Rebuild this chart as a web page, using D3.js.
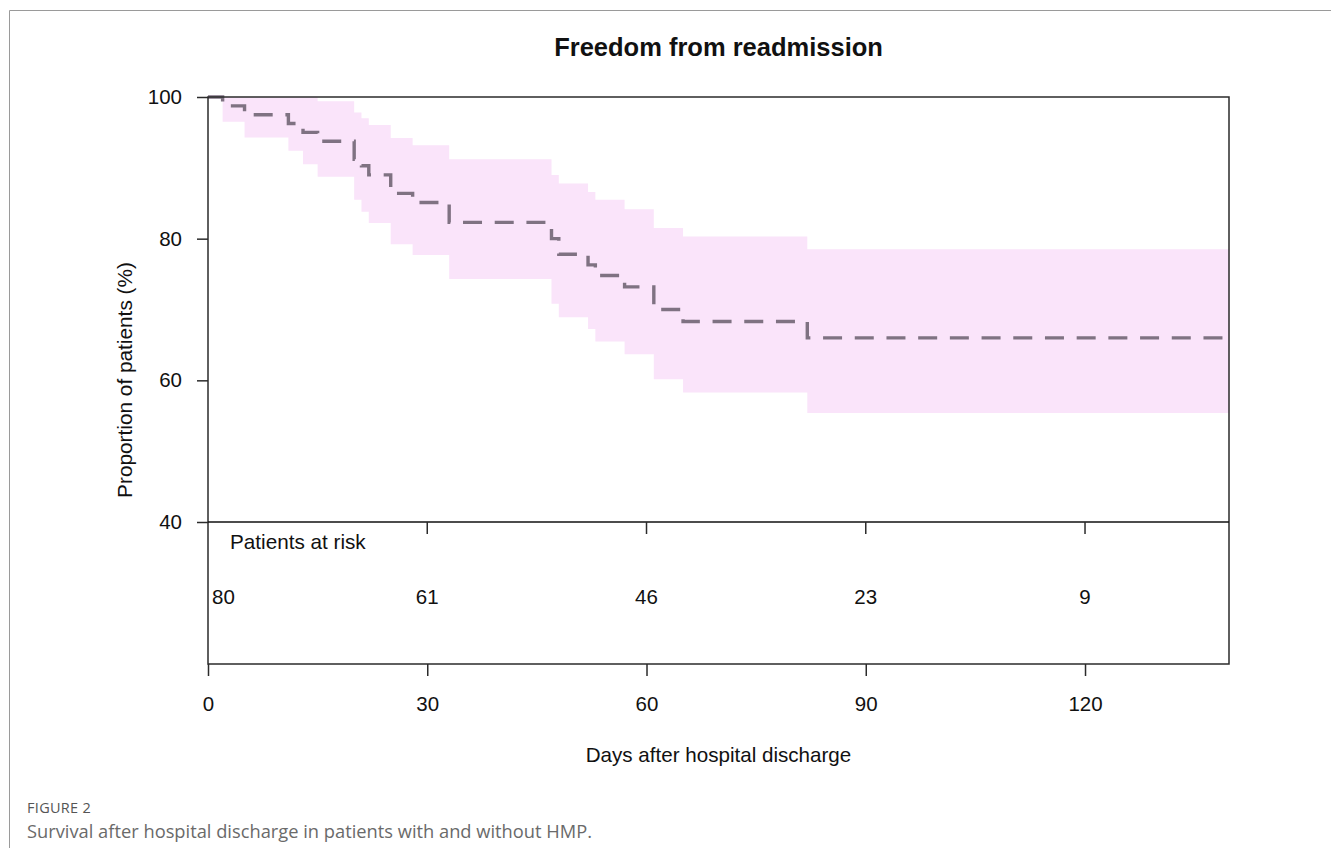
<!DOCTYPE html>
<html><head><meta charset="utf-8">
<script src="https://cdn.jsdelivr.net/npm/d3@7"></script>
<style>
body{margin:0;background:#fff;}
svg{display:block;}
</style></head>
<body>
<svg id="c" width="1331" height="848"></svg>
<script>
const times = [0,2,5,11,13,15,20,21,22,25,28,33,47,48,52,53,57,61,65,82];
const surv  = [100,98.75,97.5,96.25,95,93.75,91.2,90.3,89.0,86.4,85.1,82.3,80.0,77.8,76.3,74.8,73.2,70.0,68.3,66.0];
const upper = [100,100,100,100,100,99.4,97.8,97.0,96.05,94.2,93.2,91.2,89.0,87.8,86.6,85.5,84.15,81.5,80.3,78.5];
const lower = [100,96.5,94.3,92.4,90.5,88.75,85.5,83.8,82.2,79.2,77.7,74.3,70.8,68.9,67.25,65.5,63.7,60.15,58.3,55.4];
const xMax = 139.7;
const xTicks = [0,30,60,90,120];
const yTicks = [40,60,80,100];
const riskTimes = [0,30,60,90,120];
const riskCounts = [80,61,46,23,9];

const svg = d3.select("#c");
const font = "'Liberation Sans', Arial, sans-serif";
const L = 208, R = 1229, T = 97, B = 522, B2 = 664;
const x = d3.scaleLinear().domain([0, xMax]).range([L, R]);
const y = d3.scaleLinear().domain([40, 100]).range([B, T]);

// outer figure frame
svg.append("path").attr("d", `M9.5,848 V10.5 H1331`).attr("fill","none").attr("stroke","#9a9a9a").attr("stroke-width",1);

// data rows
const rows = times.map((t,i)=>({t, s:surv[i], u:upper[i], l:lower[i]}));
rows.push({t:xMax, s:surv[surv.length-1], u:upper[upper.length-1], l:lower[lower.length-1]});

const g = svg.append("g");
g.append("clipPath").attr("id","cp").append("rect").attr("x",L).attr("y",T).attr("width",R-L).attr("height",B-T);

// CI band
const area = d3.area().curve(d3.curveStepAfter).x(d=>x(d.t)).y0(d=>y(d.l)).y1(d=>y(d.u));
g.append("path").datum(rows).attr("d", area).attr("fill","#fae4fa").attr("clip-path","url(#cp)");

// survival line
const line = d3.line().curve(d3.curveStepAfter).x(d=>x(d.t)).y(d=>y(d.s));
g.append("path").datum(rows).attr("d", line).attr("fill","none")
  .attr("stroke","#7f7282").attr("stroke-width",3.4).attr("stroke-dasharray","19,12.7");

// frame lines
const ax = "#2b2b2b";
svg.append("path").attr("d",`M${L},${T} H${R} V${B2} H${L} Z`).attr("fill","none").attr("stroke",ax).attr("stroke-width",1.5);
svg.append("line").attr("x1",L).attr("x2",R).attr("y1",B).attr("y2",B).attr("stroke","#111").attr("stroke-width",1.5);

// y axis
const yAxis = d3.axisLeft(y).tickValues(yTicks).tickSize(11).tickPadding(15).tickFormat(d3.format("d"));
const ya = svg.append("g").attr("transform",`translate(${L},0)`).call(yAxis);
ya.select(".domain").remove();
ya.selectAll("line").attr("stroke",ax).attr("stroke-width",1.5);
ya.selectAll("text").attr("font-family",font).attr("font-size",20.5).attr("fill","#111");

// bottom x axis
const xAxis = d3.axisBottom(x).tickValues(xTicks).tickSize(12).tickPadding(20).tickFormat(d3.format("d"));
const xa = svg.append("g").attr("transform",`translate(0,${B2})`).call(xAxis);
xa.select(".domain").remove();
xa.selectAll("line").attr("stroke",ax).attr("stroke-width",1.5);
xa.selectAll("text").attr("font-family",font).attr("font-size",20.5).attr("fill","#111");

// inner ticks on risk panel top
svg.append("g").selectAll("line").data(xTicks.filter(d=>d>0)).join("line")
  .attr("x1",d=>x(d)).attr("x2",d=>x(d)).attr("y1",B).attr("y2",B+12)
  .attr("stroke",ax).attr("stroke-width",1.5);

// risk table
svg.append("text").attr("x",230).attr("y",549).attr("font-family",font).attr("font-size",20.7).attr("fill","#111").text("Patients at risk");
svg.append("g").selectAll("text").data(riskTimes.map((t,i)=>({t,n:riskCounts[i]}))).join("text")
  .attr("x",(d,i)=> i===0 ? x(d.t)+4 : x(d.t))
  .attr("text-anchor",(d,i)=> i===0 ? "start" : "middle")
  .attr("y",604).attr("font-family",font).attr("font-size",20.5).attr("fill","#111").text(d=>d.n);

// titles
svg.append("text").attr("x",(L+R)/2).attr("y",56).attr("text-anchor","middle").attr("font-family",font)
  .attr("font-size",25.5).attr("font-weight","bold").attr("fill","#111").text("Freedom from readmission");
svg.append("text").attr("x",(L+R)/2).attr("y",762).attr("text-anchor","middle").attr("font-family",font)
  .attr("font-size",20.6).attr("fill","#111").text("Days after hospital discharge");
svg.append("text").attr("transform",`translate(132,380) rotate(-90)`).attr("text-anchor","middle")
  .attr("font-family",font).attr("font-size",20.8).attr("fill","#111").text("Proportion of patients (%)");

// caption
svg.append("text").attr("x",27).attr("y",813).attr("font-family","'Open Sans', sans-serif").attr("font-size",14.5)
  .attr("fill","#555").attr("letter-spacing",0.3).text("FIGURE 2");
svg.append("text").attr("x",27).attr("y",838).attr("font-family","'Open Sans', sans-serif").attr("font-size",18.3)
  .attr("fill","#6a6a6a").text("Survival after hospital discharge in patients with and without HMP.");
</script>
</body></html>
